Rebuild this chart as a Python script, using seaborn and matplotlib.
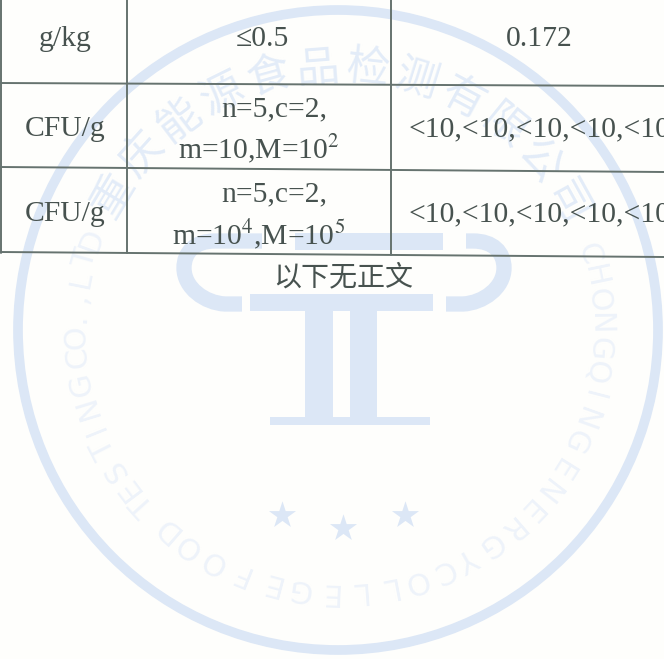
import numpy as np
import pandas as pd
import seaborn as sns
import matplotlib
matplotlib.use("Agg")
import matplotlib.pyplot as plt
from matplotlib.patches import Circle, PathPatch, Rectangle
from matplotlib.path import Path

units = ["g/kg", "CFU/g", "CFU/g"]
limits_top = ["≤0.5", "n=5,c=2,", "n=5,c=2,"]
limits_bottom = ["", r"m=10,M=10$^{2}$", r"m=10$^{4}$,M=10$^{5}$"]
results = ["0.172", "<10,<10,<10,<10,<10", "<10,<10,<10,<10,<10"]
footer = "以下无正文"
seal_cn = list("重庆能源食品检测有限公司")
seal_en = ["CHONGQING", "ENERGY", "COLLEGE", "FOOD", "TESTING", "CO.,LTD"]

INK = "#47524f"
RULE = "#66736f"
SEAL = "#dce7f6"
SEAL_CN = "#e3ecf8"
SEAL_FAINT = "#eef3fa"
CX, CY = 338, 330

sns.set_theme(style="white")
plt.rcParams["mathtext.fontset"] = "stix"
fig = plt.figure(figsize=(6.64, 6.59), dpi=100)
ax = fig.add_axes([0, 0, 1, 1])
ax.set_xlim(0, 664)
ax.set_ylim(659, 0)
ax.axis("off")

# seal
ax.add_patch(Circle((CX, CY), 320, fill=False, ec=SEAL, lw=7, zorder=1))
for i, ch in enumerate(seal_cn):
    th = np.radians(149 - i * 120 / 11)
    ax.text(CX + 262 * np.cos(th), CY - 262 * np.sin(th), ch, color=SEAL_CN, fontsize=31,
            family="Noto Sans CJK SC", rotation=np.degrees(th) - 90,
            rotation_mode="anchor", ha="center", va="center", zorder=1)
spans = [(17, -25), (-32, -60.5), (-66.4, -105), (-112, -131), (-138, -168), (-174, -200)]
for word, (a0, a1) in zip(seal_en, spans):
    for ch, a in zip(word, np.linspace(a0, a1, len(word))):
        th = np.radians(a)
        ax.text(CX + 262 * np.cos(th), CY - 262 * np.sin(th), ch, color=SEAL_FAINT, fontsize=22,
                family="DejaVu Sans", rotation=a - 90, rotation_mode="anchor",
                ha="center", va="center", zorder=1)

M, L, C = Path.MOVETO, Path.LINETO, Path.CURVE4
codes = [M, L, C, C, C, C, C, C, L]
left_c = [(262, 241), (215, 241), (195, 241), (184, 252), (184, 268),
          (184, 288), (205, 303), (225, 304), (242, 304)]
right_c = [(466, 241), (473, 241), (493, 241), (504, 252), (504, 268),
           (504, 288), (483, 303), (463, 304), (446, 304)]
for pts in (left_c, right_c):
    ax.add_patch(PathPatch(Path(pts, codes), fill=False, ec=SEAL, lw=11,
                           capstyle="butt", zorder=1))
for x, y, w, h in [(295, 233, 148, 17), (250, 294, 183, 17), (305, 311, 28, 106),
                   (350, 311, 27, 106), (270, 417, 160, 8)]:
    ax.add_patch(Rectangle((x, y), w, h, fc=SEAL, ec="none", zorder=1))
ax.scatter([282, 343, 405], [515, 528, 515], marker="*", s=420, c=SEAL, linewidths=0, zorder=1)

# table rules
rules = pd.DataFrame({
    "x": [0, 664, 0, 664, 0, 664, 1, 1, 127, 127, 391, 391],
    "y": [83, 86, 167, 172, 252, 257, 0, 253, 0, 253, 0, 255],
    "rule": list("aabbccddeeff"),
})
sns.lineplot(data=rules, x="x", y="y", units="rule", estimator=None, sort=False,
             color=RULE, lw=1.4, ax=ax, zorder=3, legend=False)
ax.set_xlim(0, 664)
ax.set_ylim(659, 0)
ax.axis("off")

# text
serif = dict(family="Liberation Serif", color=INK, fontsize=21.3, ha="center", va="center", zorder=4)
row_y = [39, 129, 214]
for u, y in zip(units, row_y):
    ax.text(65, y, u, **serif)
ax.text(262, 39, limits_top[0], **serif)
ax.text(539, 39, results[0], **serif)
for top, bot, y in zip(limits_top[1:], limits_bottom[1:], row_y[1:]):
    ax.text(274, y - 20, top, **serif)
    ax.text(259, y + 20, bot, **serif)
for res, y in zip(results[1:], row_y[1:]):
    ax.text(408, y, res, **{**serif, "ha": "left"})
ax.text(343, 277, footer, family="Noto Sans CJK SC", color=INK, fontsize=20.2,
        ha="center", va="center", zorder=4)

fig.savefig("out.png", dpi=100, facecolor="#fefefc")
